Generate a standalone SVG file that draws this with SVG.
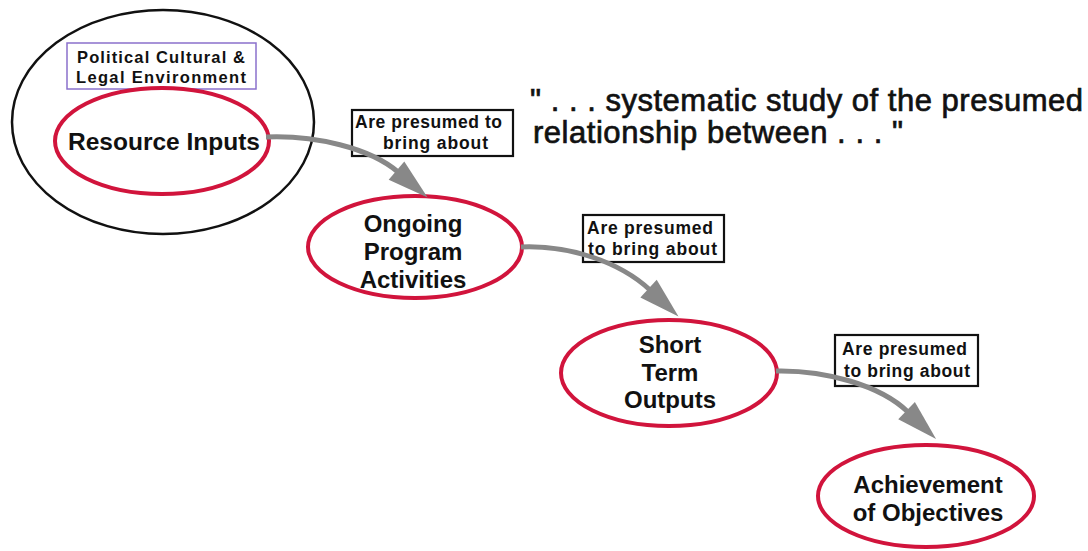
<svg xmlns="http://www.w3.org/2000/svg" width="1088" height="551" viewBox="0 0 1088 551">
<style>
text{font-family:"Liberation Sans",Arial,sans-serif;fill:#111;}
.node{fill:#fff;stroke:#d1143c;stroke-width:4;}
.nt{font-weight:bold;font-size:24px;text-anchor:middle;}
.lbl{fill:#fff;stroke:#111;stroke-width:2.2;}
.lt{font-weight:bold;font-size:17.5px;}
.et{font-weight:bold;font-size:16.5px;text-anchor:middle;}
.conn{fill:none;stroke:#888;stroke-width:5;}
.q{font-size:31px;stroke:#111;stroke-width:0.7;}
</style>
<defs>
<marker id="ah" markerUnits="userSpaceOnUse" markerWidth="44" markerHeight="26" viewBox="0 -13 44 26" refX="0" refY="0" orient="auto" overflow="visible">
<path d="M-2,-12 L39,0 L-2,12 z" fill="#888"/>
</marker>
</defs>
<rect width="1088" height="551" fill="#fff"/>
<g id="environment">
<ellipse cx="163" cy="122" rx="151" ry="112" fill="none" stroke="#111" stroke-width="2.5"/>
<rect x="67" y="43" width="189" height="46" fill="#fff" stroke="#8a70cc" stroke-width="1.5"/>
<text class="et" x="161" y="63" textLength="168">Political Cultural &amp;</text>
<text class="et" x="161" y="83" textLength="170">Legal Environment</text>
</g>
<g id="resource-inputs">
<ellipse class="node" cx="162" cy="141" rx="107" ry="53"/>
<text class="nt" x="164" y="150" textLength="192" lengthAdjust="spacingAndGlyphs">Resource Inputs</text>
</g>
<g id="ongoing-activities">
<ellipse class="node" cx="415" cy="247" rx="107" ry="51"/>
<text class="nt" x="413" y="232">Ongoing</text>
<text class="nt" x="413" y="260">Program</text>
<text class="nt" x="413" y="288">Activities</text>
</g>
<g id="short-term-outputs">
<ellipse class="node" cx="669" cy="373" rx="108" ry="53"/>
<text class="nt" x="670" y="353">Short</text>
<text class="nt" x="670" y="381">Term</text>
<text class="nt" x="670" y="408">Outputs</text>
</g>
<g id="achievement">
<ellipse class="node" cx="926" cy="496" rx="108" ry="51"/>
<text class="nt" x="928" y="493">Achievement</text>
<text class="nt" x="928" y="521">of Objectives</text>
</g>
<g id="label-1">
<rect class="lbl" x="352" y="110" width="161" height="46"/>
<text class="lt" x="355" y="128" textLength="147">Are presumed to</text>
<text class="lt" x="383" y="149" textLength="105">bring about</text>
</g>
<g id="label-2">
<rect class="lbl" x="583" y="215" width="141" height="47"/>
<text class="lt" x="587" y="234" textLength="126">Are presumed</text>
<text class="lt" x="588" y="255" textLength="129">to bring about</text>
</g>
<g id="label-3">
<rect class="lbl" x="835" y="335" width="143" height="51"/>
<text class="lt" x="842" y="355" textLength="125">Are presumed</text>
<text class="lt" x="844" y="377" textLength="126">to bring about</text>
</g>
<g id="quote">
<text class="q" x="530" y="111" textLength="553">" . . . systematic study of the presumed</text>
<text class="q" x="533" y="143" textLength="370">relationship between . . . "</text>
</g>
<g id="connectors">
<path class="conn" d="M266,137 C315,135 370,148 398,172" marker-end="url(#ah)"/>
<path class="conn" d="M521,247 C570,245 620,262 650,290" marker-end="url(#ah)"/>
<path class="conn" d="M776,371 C825,370 880,385 908,412" marker-end="url(#ah)"/>
</g>
</svg>
